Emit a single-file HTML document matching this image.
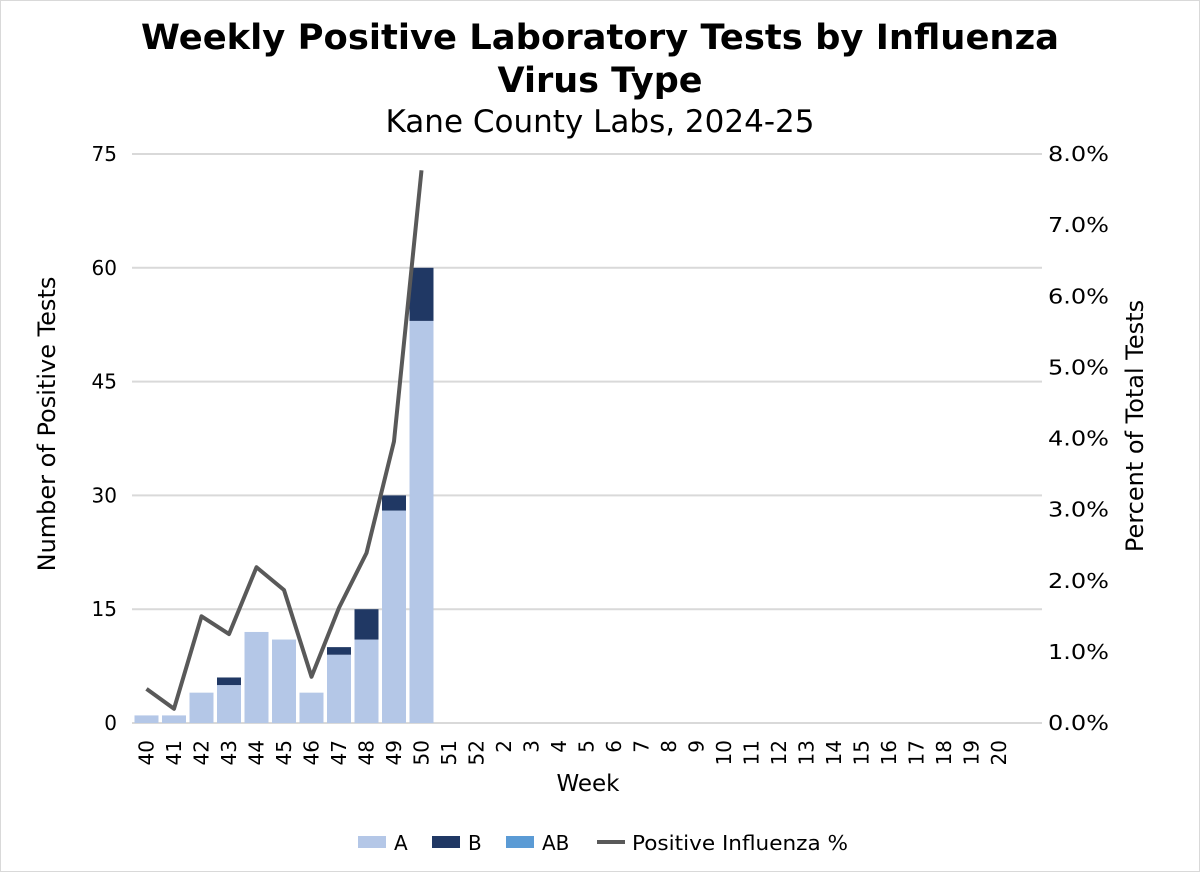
<!DOCTYPE html>
<html><head><meta charset="utf-8"><style>
body{margin:0;background:#fff}
svg{display:block;font-family:"DejaVu Sans","Liberation Sans",sans-serif}
</style></head><body>
<svg id="c" width="1200" height="872" viewBox="0 0 1200 872">
<rect x="0.5" y="0.5" width="1199" height="871" fill="#fff" stroke="#d9d9d9"/>
<text x="600" y="49" text-anchor="middle" font-size="35" font-weight="bold" fill="#000" textLength="918" lengthAdjust="spacingAndGlyphs">Weekly Positive Laboratory Tests by Influenza</text>
<text x="600" y="92" text-anchor="middle" font-size="35" font-weight="bold" fill="#000">Virus Type</text>
<text x="600" y="132" text-anchor="middle" font-size="31" fill="#000">Kane County Labs, 2024-25</text>
<g id="grid"></g><g id="bars"></g><g id="line"></g><g id="axes"></g>
<text transform="translate(55,424) rotate(-90)" text-anchor="middle" font-size="24">Number of Positive Tests</text>
<text transform="translate(1143,426) rotate(-90)" text-anchor="middle" font-size="24">Percent of Total Tests</text>
<text x="588" y="791" text-anchor="middle" font-size="23">Week</text>
<g font-size="20">
<rect x="358" y="836" width="28" height="12" fill="#b4c7e7"/>
<text x="394" y="850">A</text>
<rect x="432" y="836" width="28" height="12" fill="#203864"/>
<text x="468" y="850">B</text>
<rect x="506" y="836" width="28" height="12" fill="#5b9bd5"/>
<text x="542" y="850">AB</text>
<line x1="597" y1="842" x2="625" y2="842" stroke="#595959" stroke-width="4"/>
<text x="632" y="850" textLength="216" lengthAdjust="spacingAndGlyphs">Positive Influenza %</text>
</g>
</svg>
<script>
const weeks=["40","41","42","43","44","45","46","47","48","49","50","51","52","2","3","4","5","6","7","8","9","10","11","12","13","14","15","16","17","18","19","20"];
const valA=[1,1,4,5,12,11,4,9,11,28,53];
const valB=[0,0,0,1,0,0,0,1,4,2,7];
const valAB=[0,0,0,0,0,0,0,0,0,0,0];
const pct=[0.48,0.2,1.5,1.25,2.19,1.87,0.65,1.62,2.39,3.96,7.77];
const leftTicks=[0,15,30,45,60,75];
const rightTicks=[0,1,2,3,4,5,6,7,8];
const NS="http://www.w3.org/2000/svg";
const X0=132.75,STEP=27.5,Y0=723,Y1=154;
const xc=i=>X0+STEP*(i+0.5);
const yL=v=>Y0-(Y0-Y1)*v/75;
const yR=v=>Y0-(Y0-Y1)*v/8;
function mk(t,a,p){const e=document.createElementNS(NS,t);for(const k in a)e.setAttribute(k,a[k]);p.appendChild(e);return e;}
const G=document.getElementById('grid'),B=document.getElementById('bars'),L=document.getElementById('line'),A=document.getElementById('axes');
leftTicks.forEach(v=>{
 const l=mk('line',{x1:132,x2:1042,y1:yL(v),y2:yL(v),stroke:'#d9d9d9','stroke-width':2},G);
 
 
 const t=mk('text',{x:117,y:yL(v)+7,'text-anchor':'end','font-size':20},A);t.textContent=v;
 
 
});
rightTicks.forEach(v=>{
 const t=mk('text',{x:1048,y:yR(v)+7,'font-size':20,textLength:61,lengthAdjust:'spacingAndGlyphs'},A);t.textContent=v.toFixed(1)+'%';
 
 
});
weeks.forEach((w,i)=>{
 const t=mk('text',{transform:`translate(${xc(i)+7},740) rotate(-90)`,'text-anchor':'end','font-size':20},A);t.textContent=w;
 
 
});
const bw=24;
valA.forEach((a,i)=>{
 const b=valB[i],ab=valAB[i];
 const r1=mk('rect',{x:xc(i)-bw/2,y:yL(a),width:bw,height:yL(0)-yL(a),fill:'#b4c7e7'},B);
 
 
 if(b>0){const r2=mk('rect',{x:xc(i)-bw/2,y:yL(a+b),width:bw,height:yL(a)-yL(a+b),fill:'#203864'},B);
 
 }
 if(ab>0){const r3=mk('rect',{x:xc(i)-bw/2,y:yL(a+b+ab),width:bw,height:yL(a+b)-yL(a+b+ab),fill:'#5b9bd5'},B);
 
 }
});
const pl=mk('polyline',{points:pct.map((p,i)=>xc(i)+','+yR(p)).join(' '),fill:'none',stroke:'#595959','stroke-width':4,'stroke-linejoin':'round'},L);


</script>
</body></html>
